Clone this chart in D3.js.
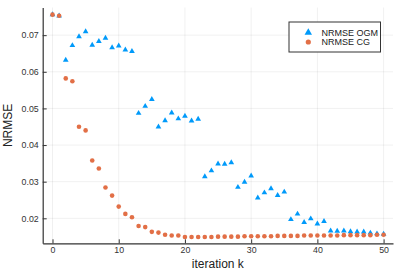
<!DOCTYPE html>
<html>
<head>
<meta charset="utf-8">
<script src="https://cdn.jsdelivr.net/npm/d3@7"></script>
<style>
  body { margin: 0; background: #fff; }
  svg { font-family: "Liberation Sans", Arial, sans-serif; }
</style>
</head>
<body>
<svg width="407" height="271"></svg>
<script>
// values
var iterations = d3.range(0, 51);
var nrmseOGM = [0.0756, 0.0753, 0.0632, 0.0672, 0.0696, 0.0710, 0.0673, 0.0683, 0.0692, 0.0666,
  0.0671, 0.0660, 0.0656, 0.0487, 0.0506, 0.0525, 0.0450, 0.0467, 0.0488, 0.0472,
  0.0479, 0.0466, 0.0471, 0.0314, 0.0330, 0.0349, 0.0348, 0.0352, 0.0285, 0.0299,
  0.0316, 0.0256, 0.0270, 0.0281, 0.0263, 0.0272, 0.0197, 0.0212, 0.0189, 0.0199,
  0.0185, 0.0192, 0.0166, 0.0165, 0.0166, 0.0164, 0.0163, 0.0163, 0.0160, 0.0158, 0.0157];
var nrmseCG = [0.0756, 0.0753, 0.0582, 0.0574, 0.0450, 0.0440, 0.0358, 0.0336, 0.0284, 0.0262,
  0.0232, 0.0212, 0.0203, 0.0179, 0.0176, 0.0163, 0.0161, 0.0155, 0.0153, 0.0153,
  0.0149, 0.0149, 0.0149, 0.0149, 0.0149, 0.0150, 0.0150, 0.0150, 0.0150, 0.0151,
  0.0151, 0.0151, 0.0151, 0.0151, 0.0152, 0.0152, 0.0152, 0.0152, 0.0153, 0.0153,
  0.0153, 0.0153, 0.0153, 0.0153, 0.0154, 0.0154, 0.0154, 0.0154, 0.0154, 0.0155, 0.0155];
var xTicks = [0, 10, 20, 30, 40, 50];
var yTicks = [0.02, 0.03, 0.04, 0.05, 0.06, 0.07];
var seriesNames = ['NRMSE OGM', 'NRMSE CG'];

var svg = d3.select('svg');
var pLeft = 42.7, pRight = 393, pTop = 7.5, pBottom = 243.3;

var x = d3.scaleLinear().domain([-1.48, 51.42]).range([pLeft, pRight]);
var y = d3.scaleLinear().domain([0.01318, 0.07755]).range([pBottom, pTop]);

var blue = '#009AFA', orange = '#E26F46';

// grid
svg.append('g').selectAll('line')
  .data(xTicks).enter().append('line')
  .attr('x1', d => x(d)).attr('x2', d => x(d))
  .attr('y1', pTop).attr('y2', pBottom)
  .attr('stroke', '#000').attr('stroke-opacity', 0.1).attr('stroke-width', 0.6);
svg.append('g').selectAll('line')
  .data(yTicks).enter().append('line')
  .attr('x1', pLeft).attr('x2', pRight)
  .attr('y1', d => y(d)).attr('y2', d => y(d))
  .attr('stroke', '#000').attr('stroke-opacity', 0.1).attr('stroke-width', 0.6);

// axes
var xAxis = svg.append('g')
  .attr('transform', 'translate(0,' + pBottom + ')')
  .call(d3.axisBottom(x).tickValues(xTicks).tickSizeInner(-4).tickSizeOuter(0).tickPadding(3));
var yAxis = svg.append('g')
  .attr('transform', 'translate(' + pLeft + ',0)')
  .call(d3.axisLeft(y).tickValues(yTicks).tickFormat(d3.format('.2f')).tickSizeInner(-4).tickSizeOuter(0).tickPadding(4));
[xAxis, yAxis].forEach(function(a) {
  a.select('.domain').attr('stroke', '#333').attr('stroke-width', 1.2);
  a.selectAll('.tick line').attr('stroke', '#333');
  a.selectAll('.tick text').attr('fill', '#333').attr('font-size', 8.8)
    .attr('font-family', '"Liberation Sans", Arial, sans-serif');
});

// labels
svg.append('text')
  .attr('x', (pLeft + pRight) / 2).attr('y', 268)
  .attr('text-anchor', 'middle').attr('font-size', 12).attr('fill', '#222')
  .text('iteration k');
svg.append('text')
  .attr('transform', 'translate(11.5,' + ((pTop + pBottom) / 2) + ') rotate(-90)')
  .attr('text-anchor', 'middle').attr('font-size', 12).attr('fill', '#222')
  .text('NRMSE');

// markers
var tri = d3.symbol().type(d3.symbolTriangle).size(14);
svg.append('g').selectAll('path')
  .data(iterations).enter().append('path')
  .attr('d', tri)
  .attr('transform', k => 'translate(' + x(k) + ',' + y(nrmseOGM[k]) + ')')
  .attr('fill', blue);
svg.append('g').selectAll('circle')
  .data(iterations).enter().append('circle')
  .attr('cx', k => x(k)).attr('cy', k => y(nrmseCG[k]))
  .attr('r', 2.3).attr('fill', orange);

// legend
var lg = svg.append('g');
lg.append('rect')
  .attr('x', 289).attr('y', 22).attr('width', 91.5).attr('height', 30)
  .attr('fill', '#fff').attr('stroke', '#333').attr('stroke-width', 1);
lg.append('path').attr('d', d3.symbol().type(d3.symbolTriangle).size(24)).attr('transform', 'translate(308.3,32.5)').attr('fill', blue);
lg.append('circle').attr('cx', 308.3).attr('cy', 42).attr('r', 2.6).attr('fill', orange);
lg.selectAll('text.lab')
  .data(seriesNames).enter().append('text')
  .attr('class', 'lab')
  .attr('x', 321.5).attr('y', (d, i) => 35.8 + i * 9.5)
  .attr('font-size', 9).attr('fill', '#222')
  .text(d => d);
</script>
</body>
</html>
